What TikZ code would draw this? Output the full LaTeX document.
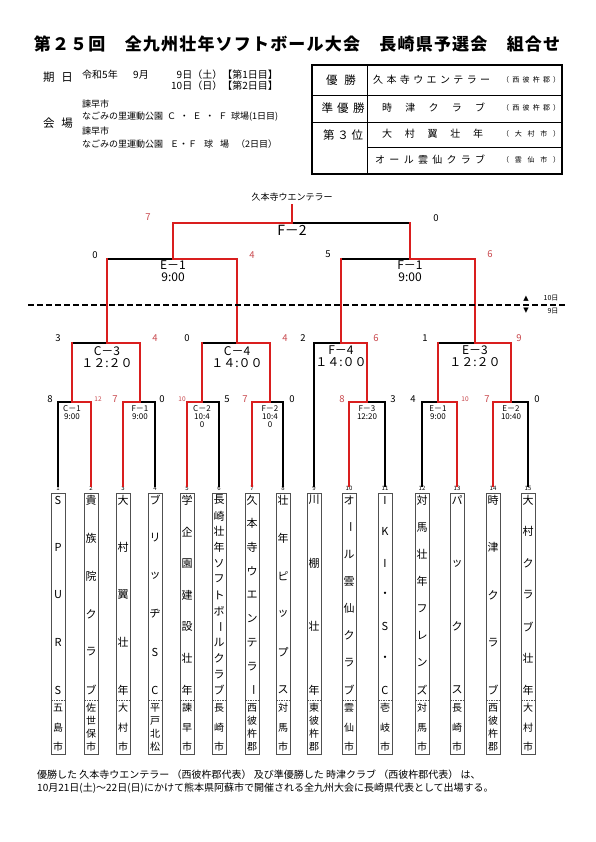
\documentclass[tikz,border=0pt]{standalone}
\usepackage{fontspec}
\setmainfont{Noto Sans CJK JP}
\newfontfamily\marksfont{DejaVu Sans}
\usetikzlibrary{positioning}
\definecolor{LineRed}{HTML}{D91E1E}
\definecolor{ScoreRed}{HTML}{C9474C}
\definecolor{BoxGray}{HTML}{505050}
\colorlet{linered}{LineRed}
\colorlet{scorered}{ScoreRed}
\colorlet{boxgray}{BoxGray}

\newcommand{\spread}[2]{\makebox[#1][s]{#2}}
\newcommand{\vbar}{\rotatebox[origin=c]{-90}{ー}}
% one team column: number, x, count, name chars, count, city chars
\newcommand{\teamcol}[6]{%
  \node[teambox] (b#1) at (#2,623.5) {};
  \node[teamno] (n#1) at (#2,488.5) {#1};
  \draw[cityline] ({#2-7},700) -- ({#2+7},700);
  \foreach \ch [count=\k] in {#4} \node[teamch] (c#1-\k) at (#2,{500+(\k-1)*190/(#3-1)}) {\ch};
  \foreach \ch [count=\k] in {#6} \node[citych] (d#1-\k) at (#2,{708+(\k-1)*39/(#5-1)}) {\ch};
}

\begin{document}
\begin{tikzpicture}[x=1pt,y=-1pt,every node/.style={inner sep=0pt},
  teambox/.style={draw=boxgray,line width=0.8pt,minimum width=14pt,minimum height=261pt},
  teamno/.style={font=\fontsize{6}{6}\selectfont},
  teamch/.style={font=\fontsize{11}{11}\selectfont},
  citych/.style={font=\fontsize{10}{10}\selectfont},
  cityline/.style={boxgray,line width=0.4pt,dash pattern=on 1.5pt off 1pt},
  lose/.style={black,line width=1.8pt,line cap=rect},
  win/.style={linered,line width=1.8pt,line cap=rect},
  score/.style={font=\fontsize{9.5}{9.5}\selectfont},
  rscore/.style={score,text=scorered},
  sscore/.style={font=\fontsize{6.5}{6.5}\selectfont,text=scorered},
  lblA/.style={font=\fontsize{8}{8}\selectfont,align=center},
  lblB/.style={font=\fontsize{12}{12}\selectfont,align=center},
  hdbig/.style={font=\fontsize{11.5}{11.5}\selectfont},
  hdtxt/.style={font=\fontsize{9}{9}\selectfont},
  hddate/.style={font=\fontsize{10}{10}\selectfont},
  tbltxt/.style={font=\fontsize{10}{10}\selectfont,anchor=west},
  tblsm/.style={font=\fontsize{7}{7}\selectfont,anchor=west},
  foot/.style={font=\fontsize{10}{10}\selectfont,anchor=west}]
\fill[white] (0,0) rectangle (595,842);
\useasboundingbox (0,0) rectangle (595,842);

% title and header
\node[font=\bfseries\fontsize{17}{17}\selectfont\addfontfeature{LetterSpace=7}] (title) at (297,44) {第２５回　全九州壮年ソフトボール大会　長崎県予選会　組合せ};
\node[hdbig] (kijitsu) at (58,77) {期\hspace{7pt}日};
\node[hddate,anchor=west] (wareki) at (82,75) {令和5年};
\node[hddate,anchor=west] (tsuki) at (133,75) {9月};
\node[hddate,anchor=east] (day1) at (278,75) {9日（土）【第1日目】};
\node[hddate,anchor=east] (day2) at (278,86) {10日（日）【第2日目】};
\node[hdbig] (kaijo) at (58,123) {会\hspace{7pt}場};
\node[hdtxt,anchor=west] (city1) at (82,104) {諫早市};
\node[hdtxt,anchor=west] (park1) at (82,117) {\spread{196pt}{なごみの里運動公園 Ｃ ・ Ｅ ・ Ｆ 球場(1日目)}};
\node[hdtxt,anchor=west] (city2) at (82,131) {諫早市};
\node[hdtxt,anchor=west] (park2) at (82,144) {\spread{195pt}{なごみの里運動公園 Ｅ・Ｆ 球 場 （2日目）}};

% result table
\draw[line width=1.3pt] (312,65) rectangle (562,174);
\draw[line width=0.6pt] (367,65) -- (367,174) (312,95) -- (562,95) (312,122) -- (562,122) (367,147) -- (562,147);
\node[hdbig] (yusho) at (341,80) {\spread{30pt}{優 勝}};
\node[hdbig] (junyu) at (343,108) {\spread{43pt}{準 優 勝}};
\node[hdbig] (sanni) at (343,135) {\spread{40pt}{第 ３ 位}};
\node[tbltxt] (win1) at (373,80) {\spread{117pt}{久 本 寺 ウ エ ン テ ラ ー}};
\node[tblsm] (win1c) at (502,80) {\spread{58pt}{（ 西 彼 杵 郡 ）}};
\node[tbltxt] (win2) at (382,108) {\spread{103pt}{時 津 ク ラ ブ}};
\node[tblsm] (win2c) at (502,108) {\spread{58pt}{（ 西 彼 杵 郡 ）}};
\node[tbltxt] (win3) at (382,134) {\spread{101pt}{大 村 翼 壮 年}};
\node[tblsm] (win3c) at (502,134) {\spread{58pt}{（ 大 村 市 ）}};
\node[tbltxt] (win4) at (375,160) {\spread{110pt}{オ ー ル 雲 仙 ク ラ ブ}};
\node[tblsm] (win4c) at (502,160) {\spread{58pt}{（ 雲 仙 市 ）}};

% teams
\teamcol{1}{58}{5}{S,P,U,R,S}{3}{五,島,市}
\teamcol{2}{91}{6}{貴,族,院,ク,ラ,ブ}{4}{佐,世,保,市}
\teamcol{3}{123}{5}{大,村,翼,壮,年}{3}{大,村,市}
\teamcol{4}{155}{6}{ブ,リ,ッ,ヂ,S,C}{4}{平,戸,北,松}
\teamcol{5}{187}{7}{学,企,園,建,設,壮,年}{3}{諫,早,市}
\teamcol{6}{219}{13}{長,崎,壮,年,ソ,フ,ト,ボ,\vbar,ル,ク,ラ,ブ}{3}{長,崎,市}
\teamcol{7}{252}{9}{久,本,寺,ウ,エ,ン,テ,ラ,\vbar}{4}{西,彼,杵,郡}
\teamcol{8}{283}{6}{壮,年,ピ,ッ,プ,ス}{3}{対,馬,市}
\teamcol{9}{314}{4}{川,棚,壮,年}{4}{東,彼,杵,郡}
\teamcol{10}{349}{8}{オ,\vbar,ル,雲,仙,ク,ラ,ブ}{3}{雲,仙,市}
\teamcol{11}{385}{7}{I,K,I,・,S,・,C}{3}{壱,岐,市}
\teamcol{12}{422}{8}{対,馬,壮,年,フ,レ,ン,ズ}{3}{対,馬,市}
\teamcol{13}{457}{4}{パ,ッ,ク,ス}{3}{長,崎,市}
\teamcol{14}{493}{5}{時,津,ク,ラ,ブ}{4}{西,彼,杵,郡}
\teamcol{15}{528}{7}{大,村,ク,ラ,ブ,壮,年}{3}{大,村,市}

% match points
\coordinate (r1a) at (72,402); \coordinate (r1b) at (140,402); \coordinate (r1c) at (202,402); \coordinate (r1d) at (270,402);
\coordinate (r1e) at (367,402); \coordinate (r1f) at (438,402); \coordinate (r1g) at (511,402);
\coordinate (r2a) at (107,343); \coordinate (r2b) at (237,343); \coordinate (r2c) at (341,343); \coordinate (r2d) at (475,343);
\coordinate (r3a) at (173,259); \coordinate (r3b) at (410,259);
\coordinate (fin) at (292,223); \coordinate (top) at (292,205);

% losing lines
\draw[lose] (n1.north) |- (r1a); \draw[lose] (n4.north) |- (r1b); \draw[lose] (n6.north) |- (r1c); \draw[lose] (n8.north) |- (r1d);
\draw[lose] (n11.north) |- (r1e); \draw[lose] (n12.north) |- (r1f); \draw[lose] (n15.north) |- (r1g);
\draw[lose] (r1a |- r2a) -- (r2a); \draw[lose] (r1c |- r2b) -- (r2b); \draw[lose] (n9.north) |- (r2c); \draw[lose] (r1f |- r2d) -- (r2d);
\draw[lose] (r2a |- r3a) -- (r3a); \draw[lose] (r2c |- r3b) -- (r3b);
\draw[lose] (r3b |- fin) -- (fin);
% winning lines
\draw[win] (n2.north) |- (r1a) -- (r1a |- r2a);
\draw[win] (n3.north) |- (r1b) -- (r1b |- r2a) -- (r2a) -- (r2a |- r3a);
\draw[win] (n5.north) |- (r1c) -- (r1c |- r2b);
\draw[win] (n7.north) |- (r1d) -- (r1d |- r2b) -- (r2b) -- (r2b |- r3a) -- (r3a) -- (r3a |- fin) -- (fin) -- (top);
\draw[win] (n10.north) |- (r1e) -- (r1e |- r2c) -- (r2c) -- (r2c |- r3b);
\draw[win] (n13.north) |- (r1f) -- (r1f |- r2d);
\draw[win] (n14.north) |- (r1g) -- (r1g |- r2d) -- (r2d) -- (r2d |- r3b) -- (r3b) -- (r3b |- fin);

% match labels
\node[lblA,below=3pt of r1a] (l1a) {C－1\\9:00};
\node[lblA,below=3pt of r1b] (l1b) {F－1\\9:00};
\node[lblA,below=3pt of r1c] (l1c) {C－2\\10:4\\0};
\node[lblA,below=3pt of r1d] (l1d) {F－2\\10:4\\0};
\node[lblA,below=3pt of r1e] (l1e) {F－3\\12:20};
\node[lblA,below=3pt of r1f] (l1f) {E－1\\9:00};
\node[lblA,below=3pt of r1g] (l1g) {E－2\\10:40};
\node[lblB,below=3pt of r2a] (l2a) {C－3\\１２:２０};
\node[lblB,below=3pt of r2b] (l2b) {C－4\\１４:００};
\node[lblB,below=3pt of r2c] (l2c) {F－4\\１４:００};
\node[lblB,below=3pt of r2d] (l2d) {E－3\\１２:２０};
\node[lblB,below=2pt of r3a] (l3a) {E－1\\9:00};
\node[lblB,below=2pt of r3b] (l3b) {F－1\\9:00};
\node[font=\fontsize{14}{14}\selectfont,below=2pt of fin] (lfin) {F－2};
\node[font=\fontsize{9}{9}\selectfont,above=4pt of top] (champ) {久本寺ウエンテラー};

% scores
\node[rscore] (sf1) at (148,217) {7}; \node[score] (sf2) at (436,218) {0};
\node[score] (s3a) at (95,255) {0}; \node[rscore] (s3b) at (252,255) {4}; \node[score] (s3c) at (328,254) {5}; \node[rscore] (s3d) at (490,254) {6};
\node[score] (s2a) at (58,338) {3}; \node[rscore] (s2b) at (155,338) {4}; \node[score] (s2c) at (187,338) {0}; \node[rscore] (s2d) at (285,338) {4};
\node[score] (s2e) at (303,338) {2}; \node[rscore] (s2f) at (376,338) {6}; \node[score] (s2g) at (425,338) {1}; \node[rscore] (s2h) at (519,338) {9};
\node[score] (s1a) at (50,399) {8}; \node[sscore] (s1b) at (98,399) {12}; \node[rscore] (s1c) at (115,399) {7}; \node[score] (s1d) at (162,399) {0};
\node[sscore] (s1e) at (182,399) {10}; \node[score] (s1f) at (227,399) {5}; \node[rscore] (s1g) at (245,399) {7}; \node[score] (s1h) at (292,399) {0};
\node[rscore] (s1i) at (342,399) {8}; \node[score] (s1j) at (393,399) {3}; \node[score] (s1k) at (413,399) {4}; \node[sscore] (s1l) at (465,399) {10};
\node[rscore] (s1m) at (487,399) {7}; \node[score] (s1n) at (537,399) {0};

% day line
\draw[line width=1.3pt,dash pattern=on 6pt off 3pt] (28,305) -- (566,305);
\node[font=\marksfont\fontsize{7}{7}\selectfont] (up) at (526,299) {▲};
\node[font=\marksfont\fontsize{7}{7}\selectfont] (down) at (526,311) {▼};
\node[font=\fontsize{7}{7}\selectfont] (d10) at (551,298) {10日};
\node[font=\fontsize{7}{7}\selectfont] (d9) at (553,311) {9日};

% footnote
\node[foot] (note1) at (37,775) {優勝した 久本寺ウエンテラー （西彼杵郡代表） 及び準優勝した 時津クラブ （西彼杵郡代表） は、};
\node[foot] (note2) at (37,788) {10月21日(土)～22日(日)にかけて熊本県阿蘇市で開催される全九州大会に長崎県代表として出場する。};
\end{tikzpicture}
\end{document}
